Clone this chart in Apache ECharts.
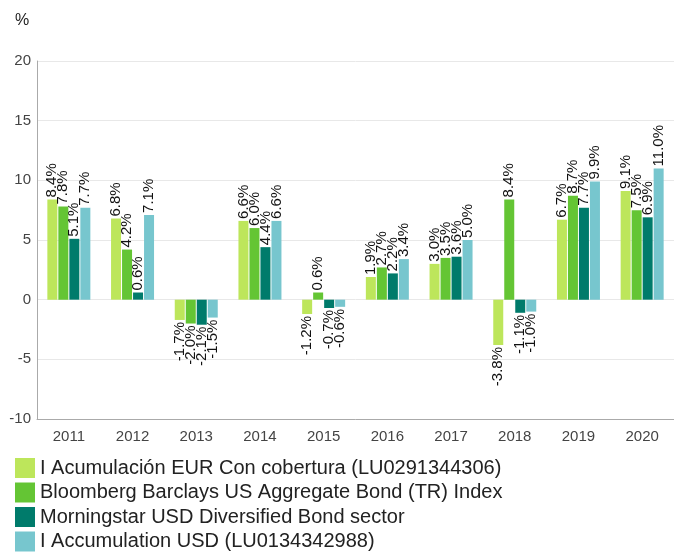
<!DOCTYPE html>
<html>
<head>
<meta charset="utf-8">
<script src="https://cdn.jsdelivr.net/npm/echarts@6/dist/echarts.min.js"></script>
<style>
  html, body { margin: 0; padding: 0; background: #fff; }
  #chart { width: 674px; height: 558px; }
</style>
</head>
<body>
<div id="chart"></div>
<script>
const years = ['2011', '2012', '2013', '2014', '2015', '2016', '2017', '2018', '2019', '2020'];
const seriesNames = [
  'I Acumulación EUR Con cobertura (LU0291344306)',
  'Bloomberg Barclays US Aggregate Bond (TR) Index',
  'Morningstar USD Diversified Bond sector',
  'I Accumulation USD (LU0134342988)'
];
const fundEur = [8.4, 6.8, -1.7, 6.6, -1.2, 1.9, 3.0, -3.8, 6.7, 9.1];
const indexUs = [7.8, 4.2, -2.0, 6.0, 0.6, 2.7, 3.5, 8.4, 8.7, 7.5];
const sectorUsd = [5.1, 0.6, -2.1, 4.4, -0.7, 2.2, 3.6, -1.1, 7.7, 6.9];
const fundUsd = [7.7, 7.1, -1.5, 6.6, -0.6, 3.4, 5.0, -1.0, 9.9, 11.0];
const colors = ['#bde65b', '#64c534', '#007b6b', '#77c6ce'];

const chart = echarts.init(document.getElementById('chart'));

// positive values get label above the bar, negatives below
function withLabels(arr) {
  return arr.map(v => ({
    value: v,
    label: v >= 0
      ? { position: 'top', align: 'left', verticalAlign: 'middle' }
      : { position: 'bottom', align: 'right', verticalAlign: 'middle' }
  }));
}

const allData = [fundEur, indexUs, sectorUsd, fundUsd];

chart.setOption({
  animation: false,
  color: colors,
  title: {
    text: '%',
    left: 10,
    top: 8,
    textStyle: { fontSize: 16, fontWeight: 'normal', color: '#222', fontFamily: 'Liberation Sans' }
  },
  legend: {
    orient: 'vertical',
    left: 15,
    top: 458,
    height: 100,
    padding: 0,
    itemWidth: 20,
    itemHeight: 20,
    itemGap: 4.5,
    icon: 'rect',
    textStyle: { fontSize: 20, color: '#222', fontFamily: 'Liberation Sans' },
    data: seriesNames
  },
  grid: { left: 37, top: 61, right: -6, bottom: 139, containLabel: false },
  xAxis: {
    type: 'category',
    data: years,
    axisTick: { show: false },
    axisLine: { onZero: false, lineStyle: { color: '#aaa' } },
    axisLabel: { color: '#444', fontSize: 15, fontFamily: 'Liberation Sans', margin: 10 }
  },
  yAxis: {
    type: 'value',
    min: -10,
    max: 20,
    interval: 5,
    axisLine: { show: true, lineStyle: { color: '#aaa' } },
    axisTick: { show: false },
    splitLine: { lineStyle: { color: '#e8e8e8' } },
    axisLabel: { color: '#444', fontSize: 15, fontFamily: 'Liberation Sans', margin: 6 }
  },
  series: seriesNames.map((name, i) => ({
    name: name,
    type: 'bar',
    barWidth: 10,
    barGap: '10%',
    data: withLabels(allData[i]),
    label: {
      show: true,
      rotate: 90,
      distance: 2,
      fontSize: 15,
      color: '#111',
      fontFamily: 'Liberation Sans',
      formatter: p => p.value.toFixed(1) + '%'
    }
  }))
});
</script>
</body>
</html>
